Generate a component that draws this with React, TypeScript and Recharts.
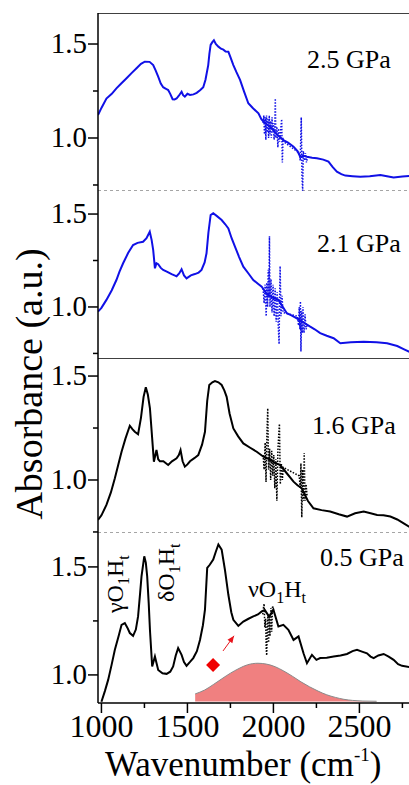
import React from "react"
import {
  ComposedChart,
  Line,
  Area,
  Scatter,
  XAxis,
  YAxis,
  ReferenceLine,
} from "recharts"

const FONT = '"Liberation Serif", "Times New Roman", serif'

// -----------------------------
// Spectra
// -----------------------------
const wave25 = [980, 1000, 1029, 1060, 1087, 1115, 1146, 1175, 1204, 1230, 1252, 1280, 1301, 1315, 1330, 1345, 1359, 1375, 1388, 1400, 1414, 1425, 1437, 1450, 1466, 1475, 1485, 1500, 1515, 1535, 1554, 1575, 1592, 1605, 1621, 1628, 1635, 1645, 1654, 1665, 1680, 1695, 1709, 1722, 1738, 1750, 1767, 1785, 1806, 1830, 1854, 1880, 1913, 1930, 1942, 1965, 1990, 2020, 2058, 2085, 2117, 2140, 2156, 2175, 2195, 2225, 2253, 2290, 2320, 2345, 2369, 2395, 2418, 2460, 2505, 2560, 2622, 2660, 2699, 2750, 2800]
const abs25 = [1.122, 1.16, 1.21, 1.235, 1.264, 1.29, 1.318, 1.345, 1.371, 1.395, 1.406, 1.405, 1.388, 1.36, 1.326, 1.29, 1.27, 1.262, 1.255, 1.235, 1.206, 1.205, 1.21, 1.225, 1.246, 1.228, 1.22, 1.235, 1.229, 1.232, 1.24, 1.255, 1.27, 1.31, 1.388, 1.45, 1.495, 1.51, 1.52, 1.5, 1.486, 1.475, 1.47, 1.46, 1.459, 1.43, 1.388, 1.35, 1.309, 1.245, 1.185, 1.16, 1.131, 1.1, 1.087, 1.07, 1.052, 1.02, 0.989, 0.975, 0.954, 0.93, 0.9, 0.905, 0.9, 0.895, 0.892, 0.885, 0.874, 0.845, 0.821, 0.808, 0.8, 0.797, 0.794, 0.796, 0.803, 0.797, 0.79, 0.795, 0.798]
const noiseWave25 = [1940, 1944, 1948, 1952, 1956, 1960, 1964, 1968, 1972, 1976, 1980, 1984, 1988, 1992, 1996, 2000, 2004, 2008, 2011, 2014, 2020, 2026, 2030, 2036, 2042, 2048, 2052, 2056, 2060, 2150, 2156, 2162, 2166, 2170, 2174, 2180, 2186, 2192, 2200]
const noiseAbs25 = [1.08, 1.12, 1.02, 1.11, 0.99, 1.12, 1.03, 1.1, 1.0, 1.12, 1.02, 1.09, 1.0, 1.11, 1.03, 1.08, 0.99, 1.06, 1.21, 1.0, 1.06, 0.95, 1.05, 0.98, 1.04, 1.1, 0.87, 1.0, 0.98, 0.92, 0.88, 1.11, 0.8, 0.72, 0.93, 0.88, 0.92, 0.87, 0.9]

const wave21 = [980, 1000, 1029, 1060, 1087, 1105, 1126, 1155, 1184, 1210, 1242, 1262, 1281, 1292, 1301, 1311, 1320, 1330, 1345, 1359, 1380, 1408, 1425, 1437, 1452, 1466, 1480, 1495, 1520, 1543, 1565, 1582, 1600, 1611, 1622, 1635, 1650, 1670, 1699, 1720, 1738, 1757, 1777, 1800, 1825, 1855, 1883, 1910, 1932, 1961, 1995, 2029, 2055, 2078, 2105, 2136, 2170, 2195, 2214, 2240, 2272, 2310, 2350, 2389, 2450, 2525, 2600, 2661, 2720, 2760, 2800]
const abs21 = [0.975, 0.995, 1.038, 1.09, 1.145, 1.19, 1.235, 1.29, 1.333, 1.345, 1.351, 1.37, 1.405, 1.36, 1.306, 1.208, 1.235, 1.23, 1.21, 1.199, 1.19, 1.177, 1.17, 1.165, 1.18, 1.203, 1.17, 1.154, 1.17, 1.177, 1.185, 1.199, 1.24, 1.289, 1.4, 1.495, 1.504, 1.49, 1.468, 1.445, 1.423, 1.37, 1.324, 1.27, 1.217, 1.18, 1.145, 1.125, 1.109, 1.07, 1.05, 1.038, 1.0, 0.966, 0.955, 0.939, 0.92, 0.905, 0.894, 0.88, 0.859, 0.845, 0.832, 0.805, 0.81, 0.813, 0.81, 0.805, 0.79, 0.772, 0.755]
const noiseWave21 = [1940, 1946, 1952, 1958, 1962, 1966, 1970, 1974, 1977, 1980, 1986, 1992, 1998, 2004, 2010, 2016, 2022, 2028, 2033, 2036, 2039, 2044, 2050, 2056, 2140, 2146, 2150, 2154, 2157, 2160, 2164, 2168, 2172, 2178, 2184, 2190, 2196]
const noiseAbs21 = [1.1, 1.02, 1.12, 0.95, 1.13, 1.0, 1.2, 1.05, 1.38, 1.0, 1.15, 0.97, 1.12, 0.95, 1.1, 0.92, 1.08, 0.9, 0.8, 1.05, 1.22, 0.95, 1.06, 0.97, 0.95, 0.9, 1.0, 0.88, 1.03, 0.76, 0.98, 0.86, 1.0, 0.86, 0.96, 0.88, 0.9]

const wave16 = [980, 1000, 1029, 1055, 1078, 1100, 1117, 1140, 1165, 1180, 1194, 1213, 1230, 1245, 1258, 1270, 1282, 1295, 1305, 1320, 1330, 1340, 1360, 1388, 1410, 1437, 1450, 1460, 1472, 1485, 1500, 1515, 1540, 1563, 1585, 1602, 1615, 1627, 1645, 1660, 1680, 1699, 1715, 1728, 1745, 1767, 1795, 1825, 1865, 1903, 1942, 1975, 2005, 2039, 2080, 2117, 2140, 2165, 2200, 2233, 2280, 2330, 2380, 2428, 2475, 2525, 2565, 2603, 2640, 2680, 2720, 2760, 2800]
const abs16 = [0.808, 0.83, 0.88, 0.94, 1.008, 1.08, 1.136, 1.2, 1.261, 1.245, 1.232, 1.22, 1.3, 1.4, 1.446, 1.41, 1.345, 1.2, 1.088, 1.144, 1.1, 1.09, 1.09, 1.072, 1.09, 1.104, 1.12, 1.144, 1.09, 1.064, 1.075, 1.09, 1.105, 1.12, 1.17, 1.232, 1.38, 1.457, 1.47, 1.476, 1.47, 1.457, 1.43, 1.4, 1.32, 1.248, 1.21, 1.176, 1.155, 1.136, 1.112, 1.1, 1.085, 1.072, 1.03, 0.992, 0.975, 0.96, 0.9, 0.864, 0.855, 0.848, 0.835, 0.824, 0.84, 0.848, 0.84, 0.832, 0.83, 0.824, 0.81, 0.79, 0.77]
const noiseWave16 = [1940, 1946, 1952, 1957, 1962, 1967, 1972, 1978, 1984, 1990, 1996, 2002, 2008, 2014, 2020, 2026, 2031, 2035, 2040, 2046, 2052, 2058, 2150, 2156, 2160, 2165, 2170, 2175, 2179, 2184, 2190, 2196]
const noiseAbs16 = [1.12, 1.05, 1.18, 0.99, 1.22, 1.345, 1.05, 1.15, 1.0, 1.14, 1.02, 1.12, 0.96, 1.1, 0.9, 1.14, 1.22, 1.27, 0.98, 1.08, 1.0, 1.06, 1.02, 0.96, 1.08, 0.82, 1.05, 0.9, 1.13, 0.9, 0.98, 0.92]

const wave05 = [1000, 1020, 1039, 1060, 1078, 1100, 1117, 1136, 1150, 1165, 1184, 1200, 1213, 1225, 1233, 1249, 1258, 1266, 1275, 1282, 1295, 1311, 1330, 1355, 1379, 1400, 1417, 1432, 1446, 1466, 1480, 1495, 1515, 1534, 1555, 1573, 1590, 1602, 1615, 1630, 1650, 1665, 1680, 1699, 1718, 1738, 1755, 1767, 1796, 1825, 1855, 1883, 1910, 1932, 1950, 1975, 2000, 2029, 2058, 2087, 2117, 2146, 2175, 2195, 2224, 2250, 2272, 2310, 2350, 2390, 2428, 2460, 2486, 2515, 2544, 2565, 2583, 2610, 2641, 2670, 2699, 2725, 2748, 2800]
const abs05 = [0.876, 0.925, 0.977, 1.05, 1.116, 1.18, 1.232, 1.24, 1.22, 1.194, 1.181, 1.21, 1.271, 1.38, 1.456, 1.549, 1.52, 1.456, 1.33, 1.209, 1.039, 1.085, 1.023, 1.008, 1.005, 1.015, 1.039, 1.09, 1.124, 1.093, 1.06, 1.042, 1.06, 1.078, 1.11, 1.162, 1.23, 1.302, 1.495, 1.51, 1.534, 1.57, 1.604, 1.58, 1.487, 1.371, 1.29, 1.255, 1.227, 1.247, 1.26, 1.271, 1.28, 1.294, 1.3, 1.27, 1.302, 1.224, 1.232, 1.209, 1.162, 1.178, 1.1, 1.054, 1.093, 1.07, 1.078, 1.08, 1.085, 1.09, 1.097, 1.11, 1.116, 1.108, 1.1, 1.085, 1.078, 1.09, 1.097, 1.085, 1.07, 1.05, 1.042, 1.035]
const noiseWave05 = [1938, 1942, 1946, 1950, 1955, 1958, 1961, 1964, 1968, 1972, 1976, 1980, 1985, 1990, 1995, 2000]
const noiseAbs05 = [1.28, 1.31, 1.33, 1.22, 1.26, 1.12, 1.09, 1.2, 1.28, 1.15, 1.27, 1.18, 1.31, 1.2, 1.32, 1.3]

// fitted band under the 0.5 GPa spectrum
const bandWave = [1545, 1600, 1650, 1700, 1750, 1800, 1850, 1910, 1960, 2010, 2060, 2110, 2160, 2210, 2260, 2310, 2360, 2410, 2460, 2520, 2600]
const bandAbs = [0.912, 0.93, 0.955, 0.982, 1.008, 1.03, 1.047, 1.054, 1.05, 1.038, 1.018, 0.994, 0.968, 0.945, 0.925, 0.908, 0.896, 0.887, 0.882, 0.879, 0.878]

const markerWave = [1649]
const markerAbs = [1.046]
const arrowWave = [1707, 1771]
const arrowAbs = [1.111, 1.181]

const xTicks = [1000, 1250, 1500, 1750, 2000, 2250, 2500, 2750]
const yTicks = [0.75, 1.0, 1.25, 1.5]

const zip = (xs: number[], ys: number[]) => xs.map((x, i) => ({ x, y: ys[i] }))

function YTick({ x, y, payload }: any) {
  const v = payload.value
  const major = v === 1 || v === 1.5
  return (
    <g>
      <line x1={x - (major ? 10 : 5)} x2={x} y1={y} y2={y} stroke="#000" strokeWidth={1.5} />
      {major && (
        <text x={x - 11} y={y + 9} textAnchor="end" fontSize={29} fontFamily={FONT} fill="#000">
          {v.toFixed(1)}
        </text>
      )}
    </g>
  )
}

function XTick({ x, y, payload }: any) {
  const v = payload.value
  const major = v % 500 === 0
  return (
    <g>
      <line x1={x} x2={x} y1={y} y2={y + (major ? 10 : 5)} stroke="#000" strokeWidth={1.5} />
      {major && (
        <text x={x} y={y + 34} textAnchor="middle" fontSize={32} fontFamily={FONT} fill="#000">
          {v}
        </text>
      )}
    </g>
  )
}

interface PanelProps {
  wave: number[]
  abs: number[]
  noiseWave: number[]
  noiseAbs: number[]
  color: string
  lo: number
  hi: number
  top: number
  height: number
  topLine?: "solid" | "dashed"
  bottomLine?: "solid" | "dashed"
  bottomAxis?: boolean
}

function Panel(p: PanelProps) {
  const axisH = p.bottomAxis ? 82 : 0
  const arrowTip = [{ x: arrowWave[1], y: arrowAbs[1] }]
  return (
    <div style={{ position: "absolute", left: 0, top: p.top }}>
      <ComposedChart width={411} height={p.height + axisH} margin={{ top: 0, right: 0, bottom: 0, left: 0 }}>
        <XAxis
          type="number"
          dataKey="x"
          domain={[980, 2800]}
          allowDataOverflow
          hide={!p.bottomAxis}
          height={axisH}
          ticks={xTicks}
          interval={0}
          tickSize={0}
          tickMargin={0}
          tickLine={false}
          tick={(t: any) => <XTick {...t} />}
          axisLine={{ stroke: "#000", strokeWidth: 1.5 }}
        />
        <YAxis
          type="number"
          dataKey="y"
          domain={[p.lo, p.hi]}
          allowDataOverflow
          width={98}
          ticks={yTicks.filter((t) => t >= p.lo && t <= p.hi)}
          interval={0}
          tickSize={0}
          tickMargin={0}
          tickLine={false}
          tick={(t: any) => <YTick {...t} />}
          axisLine={{ stroke: "#000", strokeWidth: 1.5 }}
        />

        {p.topLine && (
          <ReferenceLine
            y={p.hi}
            stroke={p.topLine === "solid" ? "#000" : "#888"}
            strokeWidth={1.5}
            strokeDasharray={p.topLine === "dashed" ? "3 3" : undefined}
          />
        )}
        {p.bottomLine && (
          <ReferenceLine
            y={p.lo}
            stroke={p.bottomLine === "solid" ? "#000" : "#888"}
            strokeWidth={1.5}
            strokeDasharray={p.bottomLine === "dashed" ? "3 3" : undefined}
          />
        )}

        {p.bottomAxis && (
          <Area
            data={zip(bandWave, bandAbs)}
            dataKey="y"
            type="monotone"
            baseValue={0.877}
            fill="#f08080"
            fillOpacity={1}
            stroke="#8a8a8a"
            strokeWidth={1}
            isAnimationActive={false}
          />
        )}

        <Line
          data={zip(p.wave, p.abs)}
          dataKey="y"
          type="linear"
          stroke={p.color}
          strokeWidth={2}
          dot={false}
          isAnimationActive={false}
        />
        <Line
          data={zip(p.noiseWave, p.noiseAbs)}
          dataKey="y"
          type="linear"
          stroke={p.color}
          strokeWidth={1.5}
          strokeDasharray="1.5 1.5"
          dot={false}
          isAnimationActive={false}
        />

        {p.bottomAxis && (
          <ReferenceLine
            segment={[
              { x: arrowWave[0], y: arrowAbs[0] },
              { x: arrowWave[1], y: arrowAbs[1] },
            ]}
            stroke="#e8141c"
            strokeWidth={1}
          />
        )}
        {p.bottomAxis && (
          <Scatter
            data={arrowTip}
            dataKey="y"
            isAnimationActive={false}
            shape={(s: any) => (
              <polygon
                points={`${s.cx},${s.cy} ${s.cx - 7},${s.cy - 3} ${s.cx - 7},${s.cy + 3}`}
                fill="#e8141c"
                transform={`rotate(-54 ${s.cx} ${s.cy})`}
              />
            )}
          />
        )}
        {p.bottomAxis && (
          <Scatter
            data={zip(markerWave, markerAbs)}
            dataKey="y"
            isAnimationActive={false}
            shape={(s: any) => (
              <polygon
                points={`${s.cx},${s.cy - 7} ${s.cx + 7},${s.cy} ${s.cx},${s.cy + 7} ${s.cx - 7},${s.cy}`}
                fill="#f00000"
              />
            )}
          />
        )}
      </ComposedChart>
    </div>
  )
}

export default function App() {
  const txt = { fontFamily: FONT, fill: "#000" }
  return (
    <div
      style={{
        position: "absolute",
        left: 0,
        top: 0,
        width: 409,
        height: 785,
        overflow: "hidden",
        background: "#fff",
      }}
    >
      <Panel wave={wave25} abs={abs25} noiseWave={noiseWave25} noiseAbs={noiseAbs25} color="#1010e6" lo={0.718} hi={1.665} top={13} height={178} topLine="solid" bottomLine="dashed" />
      <Panel wave={wave21} abs={abs21} noiseWave={noiseWave21} noiseAbs={noiseAbs21} color="#1010e6" lo={0.72} hi={1.624} top={191} height={168} bottomLine="solid" />
      <Panel wave={wave16} abs={abs16} noiseWave={noiseWave16} noiseAbs={noiseAbs16} color="#000" lo={0.745} hi={1.582} top={359} height={174} bottomLine="dashed" />
      <Panel wave={wave05} abs={abs05} noiseWave={noiseWave05} noiseAbs={noiseAbs05} color="#000" lo={0.87} hi={1.657} top={533} height={170} bottomAxis />

      <svg width={409} height={785} style={{ position: "absolute", left: 0, top: 0, pointerEvents: "none" }}>
        <text {...txt} x={42} y={384} fontSize={38} textAnchor="middle" transform="rotate(-90 42 384)">
          Absorbance (a.u.)
        </text>
        <text {...txt} x={105} y={776} fontSize={35}>
          Wavenumber (cm<tspan fontSize={19} dy={-15}>-1</tspan>
          <tspan dy={15}>)</tspan>
        </text>

        <text {...txt} x={307} y={68} fontSize={26}>2.5 GPa</text>
        <text {...txt} x={317} y={252} fontSize={26}>2.1 GPa</text>
        <text {...txt} x={312} y={434} fontSize={26}>1.6 GPa</text>
        <text {...txt} x={320} y={566} fontSize={26}>0.5 GPa</text>

        <text {...txt} x={123} y={613} fontSize={24} transform="rotate(-90 123 613)">
          γO<tspan fontSize={16} dy={6}>1</tspan>
          <tspan dy={-6}>H</tspan>
          <tspan fontSize={16} dy={6}>t</tspan>
        </text>
        <text {...txt} x={174} y={602} fontSize={24} transform="rotate(-90 174 602)">
          δO<tspan fontSize={16} dy={6}>1</tspan>
          <tspan dy={-6}>H</tspan>
          <tspan fontSize={16} dy={6}>t</tspan>
        </text>
        <text {...txt} x={248} y={597} fontSize={24}>
          νO<tspan fontSize={16} dy={6}>1</tspan>
          <tspan dy={-6}>H</tspan>
          <tspan fontSize={16} dy={6}>t</tspan>
        </text>
      </svg>
    </div>
  )
}
